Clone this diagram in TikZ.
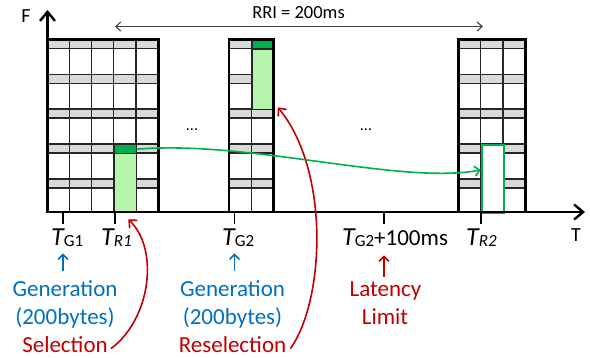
\documentclass[tikz,border=0pt]{standalone}
\usepackage{fontspec}
\setmainfont{Carlito}
\usepackage{xcolor}
\definecolor{bandgray}{HTML}{D9D9D9}
\definecolor{resgreen}{HTML}{00B050}
\definecolor{lightgreen}{HTML}{B6F5AE}
\definecolor{selred}{HTML}{C00000}
\definecolor{genblue}{HTML}{0070C0}
\usetikzlibrary{arrows.meta}
\newcommand{\bigtext}{\fontsize{23}{28}\selectfont}
\newcommand{\Tvar}{{\fontsize{26}{26}\selectfont\itshape T}}
\newcommand{\Tsub}[1]{\raisebox{-1pt}{\fontsize{17}{17}\selectfont #1}}

\begin{document}
\begin{tikzpicture}[x=1pt, y=-1pt,
  axis/.style={line width=2.4pt,
    {Straight Barb[length=9pt,width=15pt]}-{Straight Barb[length=9pt,width=15pt]}},
  gridline/.style={line width=1.3pt, black!85},
  blockframe/.style={line width=2.8pt},
  tickmark/.style={line width=1.6pt},
  cellbox/.style={anchor=north west, inner sep=0, minimum width=22.25pt,
    draw=black!85, line width=1.3pt},
  tlabel/.style={anchor=base west, inner sep=0},
  bluetxt/.style={text=genblue, font=\bigtext, anchor=base, inner sep=0},
  redtxt/.style={text=selred, font=\bigtext, anchor=base, inner sep=0},
  upblue/.style={genblue, line width=1.6pt, -{Straight Barb[length=5pt,width=10pt]}},
  upred/.style={selred, line width=1.6pt, -{Straight Barb[length=5pt,width=10pt]}},
  curvered/.style={selred, line width=1.6pt, -{Straight Barb[length=6pt,width=11pt]}},
  curvegreen/.style={resgreen, line width=1.6pt, -{Straight Barb[length=5pt,width=10pt]}},
  rriline/.style={black!75, line width=1.1pt,
    {Straight Barb[length=5pt,width=9pt]}-{Straight Barb[length=5pt,width=9pt]}}
]
\useasboundingbox (0,0) rectangle (590,357);

\foreach \xa/\nc in {47/5, 229/2, 458.5/3} {
  \foreach \r in {0,...,4} {
    \fill[bandgray] (\xa,39.3+\r*34.9) rectangle ++(\nc*22.25,9);
    \draw[gridline] (\xa,39.3+\r*34.9) -- ++(\nc*22.25,0)
      (\xa,48.3+\r*34.9) -- ++(\nc*22.25,0);
  }
  \foreach \c in {1,...,\nc}
    \draw[gridline] (\xa+\c*22.25,39.3) -- (\xa+\c*22.25,212);
}

\node[cellbox, fill=resgreen, minimum height=9pt] (r1head) at (113.75,144) {};
\node[cellbox, fill=lightgreen, minimum height=59pt] (r1body) at (113.75,153) {};
\node[cellbox, fill=resgreen, minimum height=9pt] (r2head) at (251.25,39.3) {};
\node[cellbox, fill=lightgreen, minimum height=60.8pt] (r2body) at (251.25,48.3) {};
\node[cellbox, fill=white, draw=resgreen, line width=2pt, minimum height=68pt]
  (r2box) at (480.75,144) {};

\foreach \xa/\nc in {47/5, 229/2, 458.5/3}
  \draw[blockframe] (\xa,39.3) rectangle ++(\nc*22.25,172.7);

\coordinate (fend) at (47.5,10);
\coordinate (origin) at (47.5,212);
\coordinate (tend) at (585,212);
\draw[axis] (fend) -- (origin) -- (tend);
\node[font=\fontsize{20}{20}\selectfont] (faxis) at (26,16.5) {F};
\node[font=\fontsize{20}{20}\selectfont] (taxis) at (576,235) {T};

\coordinate (rriL) at (115,26.5);
\coordinate (rriR) at (483,26.5);
\draw[rriline] (rriL) -- (rriR);
\node[font=\fontsize{18.5}{18.5}\selectfont, inner sep=0] (rri) at (298.5,12.5) {RRI = 200ms};

\node[font=\fontsize{16}{16}\selectfont, inner sep=0] (dots1) at (192,130) {...};
\node[font=\fontsize{16}{16}\selectfont, inner sep=0] (dots2) at (366,130) {...};

\coordinate (kg1) at (63,212);
\coordinate (kr1) at (115,212);
\coordinate (kg2) at (234.5,212);
\coordinate (klim) at (384,212);
\coordinate (kr2) at (481,212);
\foreach \k in {kg1,kr1,kg2,klim,kr2}
  \draw[tickmark] (\k) -- ++(0,12);

\node[tlabel] (tg1) at (51,245) {\Tvar\Tsub{G1}};
\node[tlabel] (tr1) at (101,245) {\Tvar\Tsub{\itshape R1}};
\node[tlabel] (tg2) at (222,245) {\Tvar\Tsub{G2}};
\node[tlabel] (tlim) at (342,245) {\Tvar\Tsub{G2}{\bigtext+100ms}};
\node[tlabel] (tr2) at (466,245) {\Tvar\Tsub{\itshape R2}};

\node[bluetxt] (gen1) at (65,296.5) {Generation};
\node[bluetxt] (byt1) at (65,324.5) {(200bytes)};
\node[redtxt] (sel) at (65,352.5) {Selection};
\node[bluetxt] (gen2) at (232.5,296.5) {Generation};
\node[bluetxt] (byt2) at (232.5,324.5) {(200bytes)};
\node[redtxt] (resel) at (232.5,352.5) {Reselection};
\node[redtxt] (lat) at (385.5,296.5) {Latency};
\node[redtxt] (lim) at (385,324.5) {Limit};

\draw[upblue, shorten <=9pt, shorten >=7pt] (gen1.north -| kg1) -- (tg1.south -| kg1);
\draw[upblue, shorten <=9pt, shorten >=7pt] (gen2.north -| kg2) -- (tg2.south -| kg2);
\draw[upred, shorten <=4.5pt, shorten >=9pt] (lat.north -| klim) -- (tlim.south -| klim);

\draw[curvered] ([xshift=3pt,yshift=-4pt]sel.east) .. controls (150,320) and (160,250)
  .. ([xshift=-9pt,yshift=-6pt]r1body.south east);
\draw[curvered] ([xshift=4pt,yshift=-4pt]resel.east) .. controls (325,300) and (330,170)
  .. ([xshift=3pt,yshift=3pt]r2body.south east);
\draw[curvegreen] (r1head.east) .. controls (250,140) and (400,185)
  .. ([yshift=9pt]r2box.west);

\end{tikzpicture}
\end{document}
